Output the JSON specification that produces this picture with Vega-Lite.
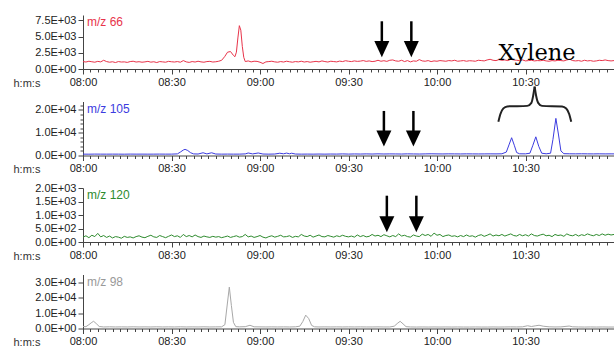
{
"$schema": "https://vega.github.io/schema/vega-lite/v6.json",
"padding": {"left": 13, "top": 14, "right": 0, "bottom": 0},
"bounds": "flush",
"spacing": 32.5,
"datasets": {
"a": [{"t":0,"v":1150},{"t":1,"v":1080},{"t":2,"v":1200},{"t":3,"v":1120},{"t":4,"v":1050},{"t":5,"v":1180},{"t":6,"v":1100},{"t":7,"v":1350},{"t":8,"v":1150},{"t":9,"v":1050},{"t":10,"v":1120},{"t":11,"v":1000},{"t":12,"v":1150},{"t":13,"v":1080},{"t":14,"v":1100},{"t":15,"v":1020},{"t":16,"v":1150},{"t":17,"v":1200},{"t":18,"v":1080},{"t":19,"v":1130},{"t":20,"v":1050},{"t":21,"v":1100},{"t":22,"v":1180},{"t":23,"v":1060},{"t":24,"v":1120},{"t":25,"v":1000},{"t":26,"v":1150},{"t":27,"v":1100},{"t":28,"v":1050},{"t":29,"v":1180},{"t":30,"v":1120},{"t":31,"v":1080},{"t":32,"v":1150},{"t":33,"v":1050},{"t":34,"v":1300},{"t":35,"v":1100},{"t":36,"v":1020},{"t":37,"v":1150},{"t":38,"v":1080},{"t":39,"v":1200},{"t":40,"v":1100},{"t":41,"v":1050},{"t":42,"v":1150},{"t":43,"v":1180},{"t":44,"v":1080},{"t":45,"v":1120},{"t":46,"v":1200},{"t":47,"v":1350},{"t":48,"v":1900},{"t":49,"v":2600},{"t":50,"v":2700},{"t":51,"v":2100},{"t":51.5,"v":1900},{"t":52,"v":2600},{"t":52.5,"v":4800},{"t":53,"v":6700},{"t":53.5,"v":6000},{"t":54,"v":3500},{"t":54.5,"v":1800},{"t":55,"v":1150},{"t":56,"v":1250},{"t":57,"v":1100},{"t":58,"v":1200},{"t":59,"v":1180},{"t":60,"v":1050},{"t":61,"v":850},{"t":62,"v":1100},{"t":63,"v":1150},{"t":64,"v":1200},{"t":65,"v":1100},{"t":66,"v":1050},{"t":67,"v":1150},{"t":68,"v":1080},{"t":69,"v":1200},{"t":70,"v":1120},{"t":71,"v":1050},{"t":72,"v":1150},{"t":73,"v":1100},{"t":74,"v":1200},{"t":75,"v":1080},{"t":76,"v":1150},{"t":77,"v":1050},{"t":78,"v":1120},{"t":79,"v":1180},{"t":80,"v":1100},{"t":81,"v":1250},{"t":82,"v":1150},{"t":83,"v":1080},{"t":84,"v":1200},{"t":85,"v":1150},{"t":86,"v":1100},{"t":87,"v":1220},{"t":88,"v":1150},{"t":89,"v":1280},{"t":90,"v":1200},{"t":91,"v":1150},{"t":92,"v":1250},{"t":93,"v":1180},{"t":94,"v":1220},{"t":95,"v":1300},{"t":96,"v":1180},{"t":97,"v":1250},{"t":98,"v":1150},{"t":99,"v":1200},{"t":100,"v":1350},{"t":101,"v":1200},{"t":102,"v":1280},{"t":103,"v":1180},{"t":104,"v":1350},{"t":105,"v":1400},{"t":106,"v":1250},{"t":107,"v":1200},{"t":108,"v":1350},{"t":109,"v":1150},{"t":110,"v":1300},{"t":111,"v":1100},{"t":112,"v":1250},{"t":113,"v":1200},{"t":114,"v":1450},{"t":115,"v":1250},{"t":116,"v":1200},{"t":117,"v":1300},{"t":118,"v":1150},{"t":119,"v":1250},{"t":120,"v":1200},{"t":121,"v":1300},{"t":122,"v":1250},{"t":123,"v":1200},{"t":124,"v":1300},{"t":125,"v":1250},{"t":126,"v":1350},{"t":127,"v":1200},{"t":128,"v":1250},{"t":129,"v":1300},{"t":130,"v":1200},{"t":131,"v":1280},{"t":132,"v":1250},{"t":133,"v":1200},{"t":134,"v":1350},{"t":135,"v":1300},{"t":136,"v":1250},{"t":137,"v":1400},{"t":138,"v":1500},{"t":139,"v":1350},{"t":140,"v":1300},{"t":141,"v":1450},{"t":142,"v":1350},{"t":143,"v":1400},{"t":144,"v":1300},{"t":145,"v":1500},{"t":146,"v":1400},{"t":147,"v":1350},{"t":148,"v":1300},{"t":149,"v":1400},{"t":150,"v":1250},{"t":151,"v":1300},{"t":152,"v":1350},{"t":153,"v":1250},{"t":154,"v":1300},{"t":155,"v":1280},{"t":156,"v":1350},{"t":157,"v":1250},{"t":158,"v":1200},{"t":159,"v":1300},{"t":160,"v":1250},{"t":161,"v":1350},{"t":162,"v":1300},{"t":163,"v":1250},{"t":164,"v":1400},{"t":165,"v":1500},{"t":166,"v":1300},{"t":167,"v":1250},{"t":168,"v":1300},{"t":169,"v":1200},{"t":170,"v":1350},{"t":171,"v":1250},{"t":172,"v":1300},{"t":173,"v":1200},{"t":174,"v":1250},{"t":175,"v":1350},{"t":176,"v":1300},{"t":177,"v":1400},{"t":178,"v":1300},{"t":179,"v":1250},{"t":180,"v":1300}],
"b": [{"t":0,"v":600},{"t":2,"v":580},{"t":4,"v":620},{"t":6,"v":600},{"t":8,"v":590},{"t":10,"v":610},{"t":12,"v":600},{"t":14,"v":580},{"t":16,"v":620},{"t":18,"v":600},{"t":20,"v":610},{"t":22,"v":590},{"t":24,"v":600},{"t":26,"v":620},{"t":28,"v":600},{"t":30,"v":610},{"t":32,"v":700},{"t":33,"v":1500},{"t":34,"v":2400},{"t":34.6,"v":2700},{"t":35.5,"v":2200},{"t":36.5,"v":1200},{"t":37.5,"v":700},{"t":39,"v":650},{"t":40.7,"v":1200},{"t":42,"v":700},{"t":43.6,"v":1200},{"t":45,"v":650},{"t":47,"v":600},{"t":49,"v":620},{"t":51,"v":600},{"t":53,"v":610},{"t":55,"v":700},{"t":56,"v":1100},{"t":57.5,"v":700},{"t":59.4,"v":1100},{"t":61,"v":650},{"t":63,"v":600},{"t":65,"v":650},{"t":66.7,"v":1000},{"t":68,"v":750},{"t":69,"v":1050},{"t":70,"v":750},{"t":70.7,"v":1000},{"t":72,"v":650},{"t":74,"v":600},{"t":76,"v":620},{"t":78,"v":600},{"t":80,"v":640},{"t":82,"v":600},{"t":84,"v":650},{"t":86,"v":620},{"t":88,"v":700},{"t":90,"v":620},{"t":92,"v":680},{"t":94,"v":640},{"t":96,"v":700},{"t":98,"v":650},{"t":100,"v":720},{"t":102,"v":660},{"t":104,"v":700},{"t":106,"v":680},{"t":108,"v":650},{"t":110,"v":720},{"t":112,"v":680},{"t":114,"v":650},{"t":116,"v":700},{"t":118,"v":750},{"t":120,"v":700},{"t":122,"v":680},{"t":124,"v":720},{"t":126,"v":700},{"t":128,"v":680},{"t":130,"v":720},{"t":132,"v":700},{"t":134,"v":680},{"t":136,"v":700},{"t":138,"v":720},{"t":140,"v":700},{"t":142,"v":750},{"t":143.5,"v":1500},{"t":144.5,"v":5000},{"t":145.3,"v":7800},{"t":146.2,"v":4500},{"t":147,"v":1300},{"t":148,"v":750},{"t":150,"v":720},{"t":151.5,"v":1000},{"t":152.5,"v":4500},{"t":153.5,"v":8200},{"t":154.5,"v":4000},{"t":155.5,"v":1000},{"t":157,"v":750},{"t":158.5,"v":1000},{"t":159.3,"v":7000},{"t":160.3,"v":16300},{"t":161.2,"v":9000},{"t":162,"v":2000},{"t":163,"v":800},{"t":165,"v":750},{"t":167,"v":720},{"t":169,"v":760},{"t":171,"v":720},{"t":173,"v":700},{"t":175,"v":740},{"t":177,"v":700},{"t":179,"v":720},{"t":180,"v":700}],
"c": [{"t":0,"v":180},{"t":1,"v":230},{"t":2,"v":160},{"t":3,"v":250},{"t":4,"v":200},{"t":5,"v":320},{"t":6,"v":190},{"t":7,"v":240},{"t":8,"v":170},{"t":9,"v":220},{"t":10,"v":150},{"t":11,"v":200},{"t":12,"v":180},{"t":13,"v":140},{"t":14,"v":210},{"t":15,"v":170},{"t":16,"v":190},{"t":17,"v":150},{"t":18,"v":200},{"t":19,"v":230},{"t":20,"v":180},{"t":21,"v":160},{"t":22,"v":210},{"t":23,"v":250},{"t":24,"v":190},{"t":25,"v":170},{"t":26,"v":240},{"t":27,"v":200},{"t":28,"v":160},{"t":29,"v":210},{"t":30,"v":260},{"t":31,"v":200},{"t":32,"v":230},{"t":33,"v":170},{"t":34,"v":280},{"t":35,"v":200},{"t":36,"v":240},{"t":37,"v":190},{"t":38,"v":260},{"t":39,"v":200},{"t":40,"v":170},{"t":41,"v":220},{"t":42,"v":190},{"t":43,"v":170},{"t":44,"v":210},{"t":45,"v":180},{"t":46,"v":200},{"t":47,"v":160},{"t":48,"v":190},{"t":49,"v":220},{"t":50,"v":170},{"t":51,"v":200},{"t":52,"v":230},{"t":53,"v":180},{"t":54,"v":200},{"t":55,"v":280},{"t":56,"v":190},{"t":57,"v":220},{"t":58,"v":170},{"t":59,"v":200},{"t":60,"v":240},{"t":61,"v":180},{"t":62,"v":150},{"t":63,"v":200},{"t":64,"v":230},{"t":65,"v":180},{"t":66,"v":210},{"t":67,"v":250},{"t":68,"v":190},{"t":69,"v":200},{"t":70,"v":230},{"t":71,"v":170},{"t":72,"v":210},{"t":73,"v":190},{"t":74,"v":280},{"t":75,"v":220},{"t":76,"v":200},{"t":77,"v":250},{"t":78,"v":180},{"t":79,"v":220},{"t":80,"v":260},{"t":81,"v":200},{"t":82,"v":190},{"t":83,"v":240},{"t":84,"v":210},{"t":85,"v":180},{"t":86,"v":230},{"t":87,"v":200},{"t":88,"v":250},{"t":89,"v":210},{"t":90,"v":190},{"t":91,"v":220},{"t":92,"v":180},{"t":93,"v":260},{"t":94,"v":200},{"t":95,"v":240},{"t":96,"v":190},{"t":97,"v":210},{"t":98,"v":280},{"t":99,"v":220},{"t":100,"v":250},{"t":101,"v":200},{"t":102,"v":270},{"t":103,"v":230},{"t":104,"v":190},{"t":105,"v":240},{"t":106,"v":200},{"t":107,"v":300},{"t":108,"v":220},{"t":109,"v":250},{"t":110,"v":200},{"t":111,"v":180},{"t":112,"v":260},{"t":113,"v":220},{"t":114,"v":200},{"t":115,"v":290},{"t":116,"v":240},{"t":117,"v":280},{"t":118,"v":210},{"t":119,"v":330},{"t":120,"v":250},{"t":121,"v":280},{"t":122,"v":200},{"t":123,"v":240},{"t":124,"v":260},{"t":125,"v":210},{"t":126,"v":230},{"t":127,"v":190},{"t":128,"v":240},{"t":129,"v":200},{"t":130,"v":260},{"t":131,"v":210},{"t":132,"v":230},{"t":133,"v":180},{"t":134,"v":240},{"t":135,"v":270},{"t":136,"v":210},{"t":137,"v":250},{"t":138,"v":300},{"t":139,"v":220},{"t":140,"v":260},{"t":141,"v":230},{"t":142,"v":280},{"t":143,"v":220},{"t":144,"v":260},{"t":145,"v":300},{"t":146,"v":240},{"t":147,"v":220},{"t":148,"v":280},{"t":149,"v":230},{"t":150,"v":270},{"t":151,"v":220},{"t":152,"v":300},{"t":153,"v":240},{"t":154,"v":220},{"t":155,"v":260},{"t":156,"v":290},{"t":157,"v":230},{"t":158,"v":250},{"t":159,"v":200},{"t":160,"v":280},{"t":161,"v":240},{"t":162,"v":260},{"t":163,"v":210},{"t":164,"v":300},{"t":165,"v":250},{"t":166,"v":230},{"t":167,"v":280},{"t":168,"v":220},{"t":169,"v":270},{"t":170,"v":240},{"t":171,"v":300},{"t":172,"v":260},{"t":173,"v":230},{"t":174,"v":280},{"t":175,"v":240},{"t":176,"v":300},{"t":177,"v":250},{"t":178,"v":290},{"t":179,"v":260},{"t":180,"v":280}],
"d": [{"t":0,"v":1300},{"t":1,"v":1200},{"t":2,"v":2500},{"t":3,"v":4000},{"t":3.6,"v":4700},{"t":4.5,"v":3200},{"t":5.5,"v":1300},{"t":7,"v":1000},{"t":9,"v":1100},{"t":11,"v":1000},{"t":13,"v":1050},{"t":15,"v":1000},{"t":17,"v":1100},{"t":19,"v":1000},{"t":21,"v":1050},{"t":23,"v":1000},{"t":25,"v":1100},{"t":27,"v":1000},{"t":29,"v":1050},{"t":31,"v":1000},{"t":33,"v":1100},{"t":35,"v":1000},{"t":37,"v":1050},{"t":39,"v":1000},{"t":41,"v":1100},{"t":43,"v":1000},{"t":45,"v":1050},{"t":47,"v":1100},{"t":48.1,"v":2500},{"t":48.8,"v":14000},{"t":49.6,"v":27000},{"t":50.3,"v":15000},{"t":51,"v":4000},{"t":51.8,"v":1200},{"t":53,"v":1100},{"t":55,"v":1200},{"t":56.6,"v":2100},{"t":58,"v":1100},{"t":60,"v":1050},{"t":62,"v":1000},{"t":64,"v":1050},{"t":66,"v":1000},{"t":68,"v":1050},{"t":70,"v":1000},{"t":72,"v":1100},{"t":73.5,"v":1500},{"t":74.5,"v":4500},{"t":75.5,"v":8700},{"t":76.5,"v":6500},{"t":77.5,"v":2000},{"t":78.5,"v":1100},{"t":80,"v":1000},{"t":82,"v":1050},{"t":84,"v":1000},{"t":86,"v":1050},{"t":88,"v":1000},{"t":90,"v":1050},{"t":92,"v":1000},{"t":94,"v":1050},{"t":96,"v":1000},{"t":98,"v":1000},{"t":100,"v":1050},{"t":102,"v":1000},{"t":104,"v":1000},{"t":105.5,"v":1500},{"t":106.5,"v":3200},{"t":107.5,"v":4700},{"t":108.5,"v":3000},{"t":109.5,"v":1200},{"t":111,"v":1000},{"t":113,"v":950},{"t":115,"v":1000},{"t":117,"v":950},{"t":119,"v":1000},{"t":121,"v":950},{"t":123,"v":1000},{"t":125,"v":950},{"t":127,"v":1000},{"t":129,"v":950},{"t":131,"v":950},{"t":133,"v":1000},{"t":135,"v":950},{"t":137,"v":950},{"t":139,"v":1000},{"t":141,"v":950},{"t":143,"v":1000},{"t":145,"v":1050},{"t":147,"v":1000},{"t":149,"v":1100},{"t":150.7,"v":1800},{"t":152,"v":1300},{"t":153.5,"v":1800},{"t":154.6,"v":2100},{"t":156,"v":1500},{"t":158,"v":1100},{"t":160,"v":1000},{"t":162,"v":1050},{"t":164.8,"v":1600},{"t":166,"v":1100},{"t":168,"v":1000},{"t":170,"v":950},{"t":172,"v":1000},{"t":174,"v":950},{"t":176,"v":1000},{"t":178,"v":950},{"t":180,"v":950}],
"brace": [{"arm":"L","t":140.8,"v":14800},{"arm":"L","t":141.5,"v":18220},{"arm":"L","t":142.5,"v":20660},{"arm":"L","t":143.8,"v":21550},{"arm":"L","t":150.6,"v":21780},{"arm":"L","t":152.0,"v":23110},{"arm":"L","t":152.6,"v":26220},{"arm":"L","t":153.1,"v":30220},{"arm":"R","t":153.1,"v":30220},{"arm":"R","t":153.6,"v":26220},{"arm":"R","t":154.3,"v":23110},{"arm":"R","t":155.6,"v":21780},{"arm":"R","t":162.4,"v":21550},{"arm":"R","t":163.8,"v":20660},{"arm":"R","t":164.8,"v":18220},{"arm":"R","t":165.5,"v":14800}]
},
"vconcat": [
{
"width": 531, "height": 54,
"layer": [
 {"data": {"name": "a"}, "mark": {"type": "line", "color": "#e8344a", "strokeWidth": 1},
  "encoding": {
   "x": {"field": "t", "type": "quantitative", "scale": {"domain": [0, 180], "nice": false, "zero": false},
     "axis": {"values": [0,30,60,90,120,150], "labelExpr": "timeFormat(datetime(2000,0,1,8,datum.value),'%H:%M')", "tickSize": 5, "labelPadding": 2, "labelFlush": false, "labelOverlap": false, "title": "h:m:s", "titleX": -70, "titleY": 14, "titleAlign": "left", "titleBaseline": "middle", "titleFontWeight": "normal", "titleFontSize": 11, "titleColor": "#333", "orient": "bottom", "grid": false}},
   "y": {"field": "v", "type": "quantitative", "scale": {"domain": [0, 8350], "nice": false},
     "axis": {"values": [0,2500,5000,7500], "labelExpr": "replace(format(datum.value,'.1e'),'e+','E+0')", "tickSize": 5, "labelFlush": false, "labelOverlap": false, "title": null, "orient": "left", "grid": false}}}},
 {"data": {"values": [{"t": 101.3}, {"t": 111.3}]}, "mark": {"type": "rule", "strokeWidth": 2.5, "color": "#000"},
  "encoding": {
   "x": {"field": "t", "type": "quantitative", "axis": {"values": [0,2.5,5,7.5,10,12.5,15,17.5,20,22.5,25,27.5,30,32.5,35,37.5,40,42.5,45,47.5,50,52.5,55,57.5,60,62.5,65,67.5,70,72.5,75,77.5,80,82.5,85,87.5,90,92.5,95,97.5,100,102.5,105,107.5,110,112.5,115,117.5,120,122.5,125,127.5,130,132.5,135,137.5,140,142.5,145,147.5,150,152.5,155,157.5,160,162.5,165,167.5,170,172.5,175,177.5,180], "labels": false, "domain": false, "tickSize": 3, "title": null, "orient": "bottom", "grid": false}},
   "y": {"datum": 7378, "type": "quantitative", "axis": null}, "y2": {"datum": 3074}}},
 {"data": {"values": [{"t": 101.3}, {"t": 111.3}]}, "mark": {"type": "point", "shape": "M-1,-1.07L1,-1.07L0,1.07Z", "size": 225, "filled": true, "color": "#000", "opacity": 1, "strokeWidth": 0},
  "encoding": {"x": {"field": "t", "type": "quantitative", "axis": null}, "y": {"datum": 3074, "type": "quantitative", "axis": null}}},
 {"data": {"values": [{"label": "m/z 66"}]}, "mark": {"type": "text", "color": "#e8344a", "align": "left", "baseline": "middle", "dx": 4, "dy": 7, "fontSize": 12, "font": "Liberation Sans"},
  "encoding": {"text": {"field": "label"}, "x": {"datum": 0, "type": "quantitative", "axis": null}, "y": {"datum": 8350, "type": "quantitative", "axis": null}}},
 {"data": {"values": [{"label": "Xylene"}]}, "mark": {"type": "text", "font": "DejaVu Serif", "fontSize": 22.5, "align": "center", "baseline": "alphabetic", "color": "#000"},
  "encoding": {"text": {"field": "label"}, "x": {"datum": 153.9, "type": "quantitative", "axis": null}, "y": {"datum": 1337, "type": "quantitative", "axis": null}}}
],
"resolve": {"axis": {"x": "independent", "y": "independent"}}
},
{
"width": 531, "height": 54,
"layer": [
 {"data": {"name": "b"}, "mark": {"type": "line", "color": "#3c3ce0", "strokeWidth": 1},
  "encoding": {
   "x": {"field": "t", "type": "quantitative", "scale": {"domain": [0, 180], "nice": false, "zero": false},
     "axis": {"values": [0,30,60,90,120,150], "labelExpr": "timeFormat(datetime(2000,0,1,8,datum.value),'%H:%M')", "tickSize": 5, "labelPadding": 2, "labelFlush": false, "labelOverlap": false, "title": "h:m:s", "titleX": -70, "titleY": 14, "titleAlign": "left", "titleBaseline": "middle", "titleFontWeight": "normal", "titleFontSize": 11, "titleColor": "#333", "orient": "bottom", "grid": false}},
   "y": {"field": "v", "type": "quantitative", "scale": {"domain": [0, 23700], "nice": false},
     "axis": {"values": [0,10000,20000], "labelExpr": "replace(format(datum.value,'.1e'),'e+','E+0')", "tickSize": 5, "labelFlush": false, "labelOverlap": false, "title": null, "orient": "left", "grid": false}}}},
 {"data": {"values": [{"t": 102.0}, {"t": 112.0}]}, "mark": {"type": "rule", "strokeWidth": 2.5, "color": "#000"},
  "encoding": {
   "x": {"field": "t", "type": "quantitative", "axis": {"values": [0,2.5,5,7.5,10,12.5,15,17.5,20,22.5,25,27.5,30,32.5,35,37.5,40,42.5,45,47.5,50,52.5,55,57.5,60,62.5,65,67.5,70,72.5,75,77.5,80,82.5,85,87.5,90,92.5,95,97.5,100,102.5,105,107.5,110,112.5,115,117.5,120,122.5,125,127.5,130,132.5,135,137.5,140,142.5,145,147.5,150,152.5,155,157.5,160,162.5,165,167.5,170,172.5,175,177.5,180], "labels": false, "domain": false, "tickSize": 3, "title": null, "orient": "bottom", "grid": false}},
   "y": {"datum": 19550, "type": "quantitative", "axis": {"values": [2000,4000,6000,8000,12000,14000,16000,18000,22000], "labels": false, "domain": false, "tickSize": 3, "title": null, "orient": "left", "grid": false}}, "y2": {"datum": 7420}}},
 {"data": {"values": [{"t": 102.0}, {"t": 112.0}]}, "mark": {"type": "point", "shape": "M-1,-1.07L1,-1.07L0,1.07Z", "size": 225, "filled": true, "color": "#000", "opacity": 1, "strokeWidth": 0},
  "encoding": {"x": {"field": "t", "type": "quantitative", "axis": null}, "y": {"datum": 7420, "type": "quantitative", "axis": null}}},
 {"data": {"name": "brace"}, "mark": {"type": "line", "color": "#222", "strokeWidth": 2, "interpolate": "monotone", "clip": false},
  "encoding": {"x": {"field": "t", "type": "quantitative", "axis": null}, "y": {"field": "v", "type": "quantitative", "axis": null}, "detail": {"field": "arm"}}},
 {"data": {"values": [{"label": "m/z 105"}]}, "mark": {"type": "text", "color": "#3c3ce0", "align": "left", "baseline": "middle", "dx": 4, "dy": 7, "fontSize": 12, "font": "Liberation Sans"},
  "encoding": {"text": {"field": "label"}, "x": {"datum": 0, "type": "quantitative", "axis": null}, "y": {"datum": 23700, "type": "quantitative", "axis": null}}}
],
"resolve": {"axis": {"x": "independent", "y": "independent"}}
},
{
"width": 531, "height": 54,
"layer": [
 {"data": {"name": "c"}, "mark": {"type": "line", "color": "#2e8b2e", "strokeWidth": 1},
  "encoding": {
   "x": {"field": "t", "type": "quantitative", "scale": {"domain": [0, 180], "nice": false, "zero": false},
     "axis": {"values": [0,30,60,90,120,150], "labelExpr": "timeFormat(datetime(2000,0,1,8,datum.value),'%H:%M')", "tickSize": 5, "labelPadding": 2, "labelFlush": false, "labelOverlap": false, "title": "h:m:s", "titleX": -70, "titleY": 14, "titleAlign": "left", "titleBaseline": "middle", "titleFontWeight": "normal", "titleFontSize": 11, "titleColor": "#333", "orient": "bottom", "grid": false}},
   "y": {"field": "v", "type": "quantitative", "scale": {"domain": [0, 2000], "nice": false},
     "axis": {"values": [0,500,1000,1500,2000], "labelExpr": "replace(format(datum.value,'.1e'),'e+','E+0')", "tickSize": 5, "labelFlush": false, "labelOverlap": false, "title": null, "orient": "left", "grid": false}}}},
 {"data": {"values": [{"t": 103.0}, {"t": 113.0}]}, "mark": {"type": "rule", "strokeWidth": 2.5, "color": "#000"},
  "encoding": {
   "x": {"field": "t", "type": "quantitative", "axis": {"values": [0,2.5,5,7.5,10,12.5,15,17.5,20,22.5,25,27.5,30,32.5,35,37.5,40,42.5,45,47.5,50,52.5,55,57.5,60,62.5,65,67.5,70,72.5,75,77.5,80,82.5,85,87.5,90,92.5,95,97.5,100,102.5,105,107.5,110,112.5,115,117.5,120,122.5,125,127.5,130,132.5,135,137.5,140,142.5,145,147.5,150,152.5,155,157.5,160,162.5,165,167.5,170,172.5,175,177.5,180], "labels": false, "domain": false, "tickSize": 3, "title": null, "orient": "bottom", "grid": false}},
   "y": {"datum": 1715, "type": "quantitative", "axis": null}, "y2": {"datum": 659}}},
 {"data": {"values": [{"t": 103.0}, {"t": 113.0}]}, "mark": {"type": "point", "shape": "M-1,-1.07L1,-1.07L0,1.07Z", "size": 225, "filled": true, "color": "#000", "opacity": 1, "strokeWidth": 0},
  "encoding": {"x": {"field": "t", "type": "quantitative", "axis": null}, "y": {"datum": 659, "type": "quantitative", "axis": null}}},
 {"data": {"values": [{"label": "m/z 120"}]}, "mark": {"type": "text", "color": "#2e8b2e", "align": "left", "baseline": "middle", "dx": 4, "dy": 7, "fontSize": 12, "font": "Liberation Sans"},
  "encoding": {"text": {"field": "label"}, "x": {"datum": 0, "type": "quantitative", "axis": null}, "y": {"datum": 2000, "type": "quantitative", "axis": null}}}
],
"resolve": {"axis": {"x": "independent", "y": "independent"}}
},
{
"width": 531, "height": 54,
"layer": [
 {"data": {"name": "d"}, "mark": {"type": "line", "color": "#a8a8a8", "strokeWidth": 1},
  "encoding": {
   "x": {"field": "t", "type": "quantitative", "scale": {"domain": [0, 180], "nice": false, "zero": false},
     "axis": {"values": [0,30,60,90,120,150], "labelExpr": "timeFormat(datetime(2000,0,1,8,datum.value),'%H:%M')", "tickSize": 5, "labelPadding": 2, "labelFlush": false, "labelOverlap": false, "title": "h:m:s", "titleX": -70, "titleY": 14, "titleAlign": "left", "titleBaseline": "middle", "titleFontWeight": "normal", "titleFontSize": 11, "titleColor": "#333", "orient": "bottom", "grid": false}},
   "y": {"field": "v", "type": "quantitative", "scale": {"domain": [0, 35200], "nice": false},
     "axis": {"values": [0,10000,20000,30000], "labelExpr": "replace(format(datum.value,'.1e'),'e+','E+0')", "tickSize": 5, "labelFlush": false, "labelOverlap": false, "title": null, "orient": "left", "grid": false}}}},
 {"data": {"name": "d"}, "mark": {"type": "line", "strokeOpacity": 0},
  "encoding": {
   "x": {"field": "t", "type": "quantitative", "axis": {"values": [0,2.5,5,7.5,10,12.5,15,17.5,20,22.5,25,27.5,30,32.5,35,37.5,40,42.5,45,47.5,50,52.5,55,57.5,60,62.5,65,67.5,70,72.5,75,77.5,80,82.5,85,87.5,90,92.5,95,97.5,100,102.5,105,107.5,110,112.5,115,117.5,120,122.5,125,127.5,130,132.5,135,137.5,140,142.5,145,147.5,150,152.5,155,157.5,160,162.5,165,167.5,170,172.5,175,177.5,180], "labels": false, "domain": false, "tickSize": 3, "title": null, "orient": "bottom", "grid": false}},
   "y": {"field": "v", "type": "quantitative", "axis": null}}},
 {"data": {"values": [{"label": "m/z 98"}]}, "mark": {"type": "text", "color": "#999999", "align": "left", "baseline": "middle", "dx": 4, "dy": 7, "fontSize": 12, "font": "Liberation Sans"},
  "encoding": {"text": {"field": "label"}, "x": {"datum": 0, "type": "quantitative", "axis": null}, "y": {"datum": 35200, "type": "quantitative", "axis": null}}}
],
"resolve": {"axis": {"x": "independent", "y": "independent"}}
}
],
"config": {
 "view": {"stroke": null},
 "font": "Liberation Sans",
 "axis": {"labelFont": "Liberation Sans", "labelFontSize": 11, "labelColor": "#222", "domainColor": "#444", "tickColor": "#444", "titleFont": "Liberation Sans", "grid": false}
}
}
